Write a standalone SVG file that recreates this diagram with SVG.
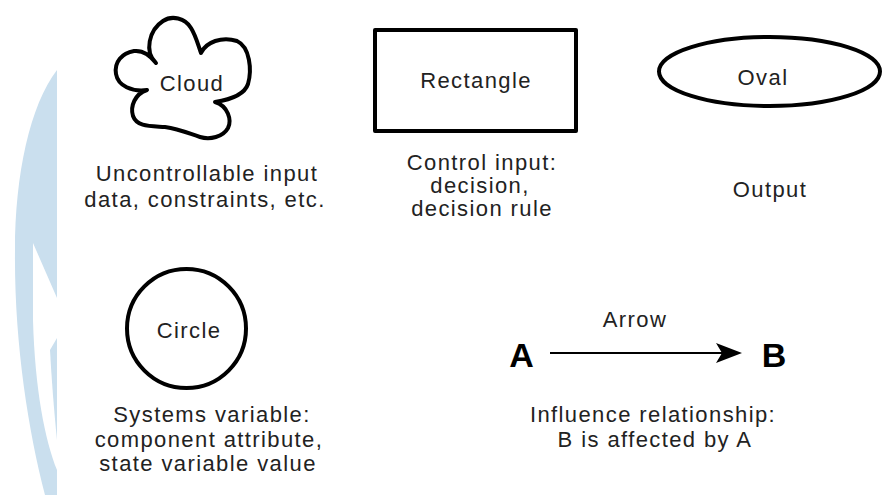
<svg xmlns="http://www.w3.org/2000/svg" width="885" height="495" viewBox="0 0 885 495">
  <defs>
    <style>
      .shape { fill: none; stroke: #000; stroke-width: 4; stroke-linejoin: round; }
      .lbl { font-family: "Liberation Sans", Arial, sans-serif; font-size: 22px; letter-spacing: 1.4px; fill: #222; text-anchor: middle; }
      .big { font-family: "Liberation Sans", Arial, sans-serif; font-size: 34px; font-weight: bold; fill: #000; text-anchor: middle; }
      .wm { fill: #cadfee; stroke: none; }
    </style>
    <marker id="arrowhead" viewBox="0 0 26 20" markerWidth="26" markerHeight="20" refX="6" refY="10" markerUnits="userSpaceOnUse" orient="auto">
      <path d="M0,0 L26,10 L0,20 L6,10 Z" fill="#000"/>
    </marker>
  </defs>
  <rect width="885" height="495" fill="#fff"/>

  <g id="watermark">
    <path class="wm" d="M57,70 C30,105 15,175 15,250 C14,340 28,430 45,495 L57,495 L57,470 C45,440 35,390 33,320 L33,243 L57,298 Z"/>
    <path class="wm" d="M50,350 C52,385 54,410 57,440 L57,338 Z"/>
  </g>

  <g id="cloud">
    <path class="shape" stroke-width="3.5" d="M156,63 C144,52 149,30 163,21 C172,15 185,18 191,28 C196,36 198,45 201,53 C206,42 222,36 237,41 C250,47 252,70 248,84 C244,96 228,100 215,102 C228,106 232,120 228,128 C223,137 210,140 200,137 C190,134 180,129 165,127 C150,126 137,127 133,116 C130,106 135,94 147,90 C132,92 118,86 116,74 C114,62 122,53 134,51 C144,50 150,56 156,63 Z"/>
    <text class="lbl" x="192" y="91">Cloud</text>
    <text class="lbl" x="207" y="181">Uncontrollable input</text>
    <text class="lbl" x="205" y="207">data, constraints, etc.</text>
  </g>

  <g id="rectangle">
    <rect class="shape" x="375" y="30" width="201" height="101"/>
    <text class="lbl" x="476" y="88">Rectangle</text>
    <text class="lbl" x="482" y="170">Control input:</text>
    <text class="lbl" x="480" y="193">decision,</text>
    <text class="lbl" x="482" y="216">decision rule</text>
  </g>

  <g id="oval">
    <ellipse class="shape" cx="769.5" cy="71.5" rx="110.5" ry="34.5"/>
    <text class="lbl" x="763" y="85">Oval</text>
    <text class="lbl" x="770" y="197">Output</text>
  </g>

  <g id="circle">
    <circle class="shape" cx="186.5" cy="328.5" r="59.5"/>
    <text class="lbl" x="189" y="338">Circle</text>
    <text class="lbl" x="212" y="422">Systems variable:</text>
    <text class="lbl" x="209" y="447">component attribute,</text>
    <text class="lbl" x="208" y="471">state variable value</text>
  </g>

  <g id="node-A">
    <text class="big" x="521.5" y="367">A</text>
  </g>
  <g id="node-B">
    <text class="big" x="774" y="367">B</text>
  </g>

  <g id="connectors">
    <line x1="550" y1="353" x2="722" y2="353" stroke="#000" stroke-width="2" marker-end="url(#arrowhead)"/>
    <text class="lbl" x="635" y="327">Arrow</text>
  </g>

  <g id="arrow-caption">
    <text class="lbl" x="653" y="422">Influence relationship:</text>
    <text class="lbl" x="655" y="447">B is affected by A</text>
  </g>
</svg>
